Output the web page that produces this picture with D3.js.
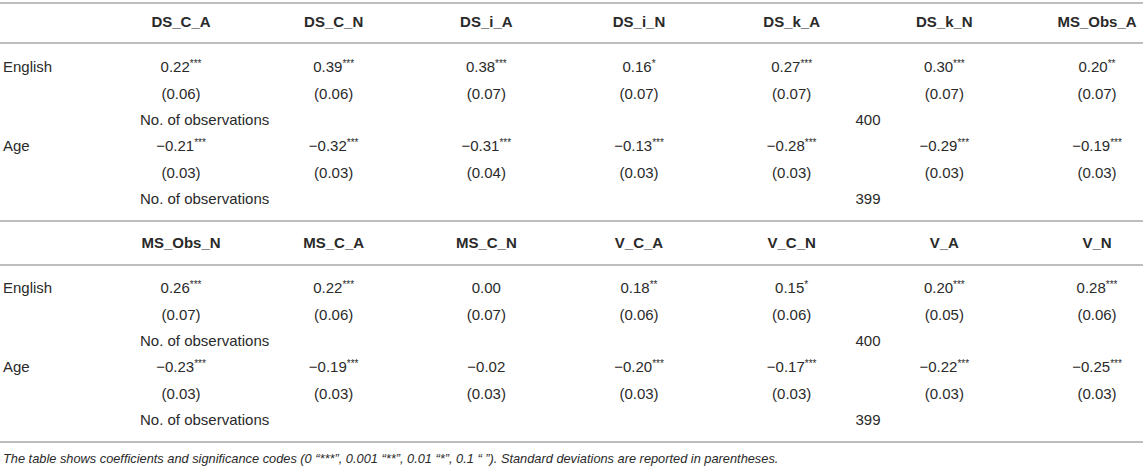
<!DOCTYPE html>
<html>
<head>
<meta charset="utf-8">
<script src="https://cdn.jsdelivr.net/npm/d3@7"></script>
<style>
  body { margin: 0; background: #fff; }
  svg text { font-family: "Liberation Sans", Arial, sans-serif; fill: #2a2a2a; }
</style>
</head>
<body>
<div id="chart"></div>
<script>
// column headers, one row of seven per block
const headersTop = ["DS_C_A", "DS_C_N", "DS_i_A", "DS_i_N", "DS_k_A", "DS_k_N", "MS_Obs_A"];
const headersBottom = ["MS_Obs_N", "MS_C_A", "MS_C_N", "V_C_A", "V_C_N", "V_A", "V_N"];

// English coefficients (top block then bottom block)
const englishCoef = [0.22, 0.39, 0.38, 0.16, 0.27, 0.30, 0.20, 0.26, 0.22, 0.00, 0.18, 0.15, 0.20, 0.28];
const englishStars = ["***", "***", "***", "*", "***", "***", "**", "***", "***", "", "**", "*", "***", "***"];
const englishSE = [0.06, 0.06, 0.07, 0.07, 0.07, 0.07, 0.07, 0.07, 0.06, 0.07, 0.06, 0.06, 0.05, 0.06];

// Age coefficients
const ageCoef = [-0.21, -0.32, -0.31, -0.13, -0.28, -0.29, -0.19, -0.23, -0.19, -0.02, -0.20, -0.17, -0.22, -0.25];
const ageStars = ["***", "***", "***", "***", "***", "***", "***", "***", "***", "", "***", "***", "***", "***"];
const ageSE = [0.03, 0.03, 0.04, 0.03, 0.03, 0.03, 0.03, 0.03, 0.03, 0.03, 0.03, 0.03, 0.03, 0.03];

const rowLabels = ["English", "", "", "Age", "", ""];
const obsLabel = "No. of observations";
const nObs = [400, 399];
const caption = "The table shows coefficients and significance codes (0 \u201c***\u201d, 0.001 \u201c**\u201d, 0.01 \u201c*\u201d, 0.1 \u201c \u201d). Standard deviations are reported in parentheses.";

const width = 1143, height = 468;
const fmt = d3.format(".2f");

const svg = d3.select("#chart").append("svg")
    .attr("width", width)
    .attr("height", height);

// scales
const x = d3.scalePoint()
    .domain(d3.range(7))
    .range([181, 1097]);

const rowKeys = ["eng", "engSE", "obs1", "age", "ageSE", "obs2"];
const y = d3.scalePoint()
    .domain(rowKeys)
    .range([67, 199]);

const blockOffset = 221;
const headerY = 22;
const rules = [3, 43, 221, 265, 442];

// horizontal rules
svg.selectAll("line.rule")
    .data(rules)
    .join("line")
    .attr("class", "rule")
    .attr("x1", 0)
    .attr("x2", width)
    .attr("y1", d => d)
    .attr("y2", d => d)
    .attr("stroke", "#bdbdbd")
    .attr("stroke-width", 2);

[headersTop, headersBottom].forEach((headers, b) => {
    const g = svg.append("g")
        .attr("transform", `translate(0,${b * blockOffset})`);

    // header row
    g.selectAll("text.head")
        .data(headers)
        .join("text")
        .attr("class", "head")
        .attr("x", (d, i) => x(i))
        .attr("y", headerY)
        .attr("dy", "0.35em")
        .attr("text-anchor", "middle")
        .attr("font-weight", "bold")
        .attr("font-size", 15)
        .text(d => d);

    // row labels
    g.selectAll("text.rowlab")
        .data(rowLabels.map((d, i) => ({ label: d, key: rowKeys[i] })).filter(d => d.label))
        .join("text")
        .attr("class", "rowlab")
        .attr("x", 3)
        .attr("y", d => y(d.key))
        .attr("dy", "0.35em")
        .attr("font-size", 15)
        .text(d => d.label);

    const cells = d3.range(7).map(i => {
        const k = b * 7 + i;
        return { i, ec: englishCoef[k], es: englishStars[k], ese: englishSE[k],
                 ac: ageCoef[k], as: ageStars[k], ase: ageSE[k] };
    });

    // coefficient rows with superscript stars
    [["eng", "ec", "es"], ["age", "ac", "as"]].forEach(([key, c, s]) => {
        const t = g.selectAll("text.coef-" + key)
            .data(cells)
            .join("text")
            .attr("class", "coef-" + key)
            .attr("x", d => x(d.i))
            .attr("y", y(key))
            .attr("dy", "0.35em")
            .attr("text-anchor", "middle")
            .attr("font-size", 15);
        t.append("tspan").text(d => fmt(d[c]));
        t.append("tspan")
            .attr("font-size", 10)
            .attr("dy", "-0.5em")
            .text(d => d[s]);
    });

    // standard errors
    [["engSE", "ese"], ["ageSE", "ase"]].forEach(([key, c]) => {
        g.selectAll("text.se-" + key)
            .data(cells)
            .join("text")
            .attr("class", "se-" + key)
            .attr("x", d => x(d.i))
            .attr("y", y(key))
            .attr("dy", "0.35em")
            .attr("text-anchor", "middle")
            .attr("font-size", 15)
            .text(d => "(" + fmt(d[c]) + ")");
    });

    // observations rows
    ["obs1", "obs2"].forEach((key, j) => {
        g.append("text")
            .attr("x", x(0) - 41)
            .attr("y", y(key))
            .attr("dy", "0.35em")
            .attr("font-size", 15)
            .text(obsLabel);
        g.append("text")
            .attr("x", (x(4) + x(5)) / 2)
            .attr("y", y(key))
            .attr("dy", "0.35em")
            .attr("text-anchor", "middle")
            .attr("font-size", 15)
            .text(nObs[j]);
    });
});

svg.append("text")
    .attr("x", 3)
    .attr("y", 459)
    .attr("dy", "0.35em")
    .attr("font-size", 12.8)
    .attr("font-style", "italic")
    .text(caption);
</script>
</body>
</html>
